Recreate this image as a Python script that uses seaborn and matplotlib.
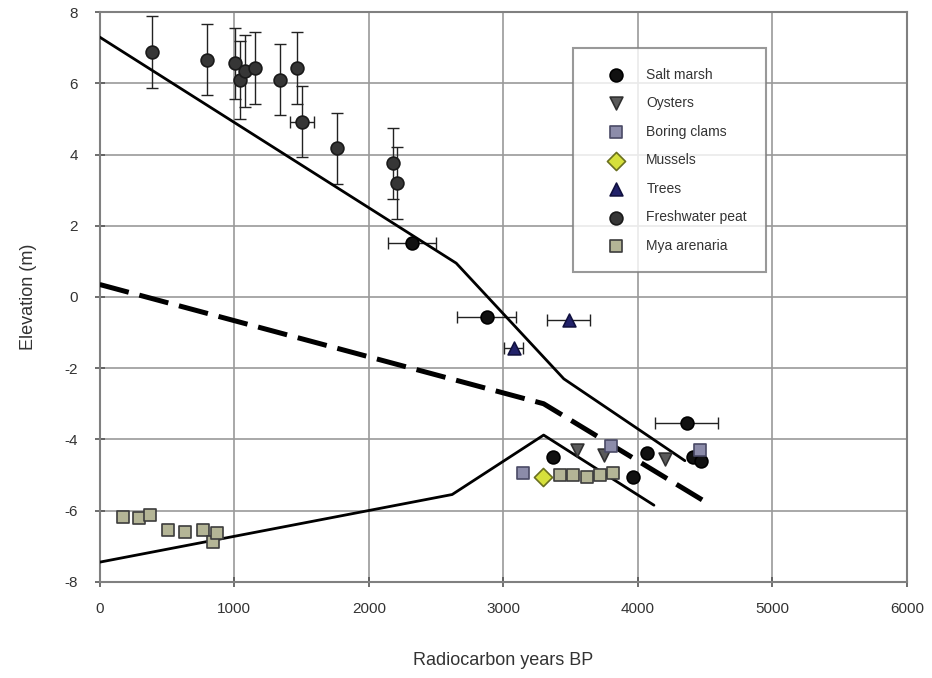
import matplotlib
matplotlib.use("Agg")
import matplotlib.pyplot as plt
import seaborn as sns
import pandas as pd


# upper dated points (large vertical uncertainty)
peat_x = [387, 796, 1004, 1041, 1078, 1152, 1338, 1465, 1502, 1762, 2178, 2208]
peat_y = [6.88, 6.66, 6.57, 6.10, 6.35, 6.43, 6.10, 6.43, 4.92, 4.18, 3.76, 3.20]
peat_xerr = [0, 0, 0, 0, 0, 0, 0, 0, 90, 0, 0, 0]
peat_yerr = [1.0, 1.0, 1.0, 1.1, 1.0, 1.0, 1.0, 1.0, 1.0, 1.0, 1.0, 1.0]

salt_x = [2320, 2877, 3368, 3963, 4067, 4364, 4409, 4470]
salt_y = [1.52, -0.56, -4.49, -5.06, -4.38, -3.54, -4.49, -4.60]
salt_xerr = [180, 220, 0, 0, 0, 234, 0, 0]

oyster_x = [3546, 3750, 4200]
oyster_y = [-4.30, -4.45, -4.55]

clam_x = [3145, 3800, 4460]
clam_y = [-4.95, -4.20, -4.30]

mussel_x = [3294]
mussel_y = [-5.06]

tree_x = [3078, 3487]
tree_y = [-1.43, -0.65]
tree_xerr = [70, 160]

mya_x = [171, 290, 372, 506, 632, 766, 840, 870, 3420, 3517, 3621, 3717, 3814]
mya_y = [-6.18, -6.20, -6.12, -6.55, -6.60, -6.55, -6.88, -6.63,
         -5.00, -5.00, -5.05, -5.00, -4.95]

# sea level curves
upper_x = [0, 2650, 3450, 4350]
upper_y = [7.3, 0.95, -2.3, -4.6]
dash_x = [0, 3300, 4500]
dash_y = [0.35, -3.0, -5.75]
lower_x = [0, 2620, 3300, 4120]
lower_y = [-7.45, -5.55, -3.88, -5.85]

x_ticks = [0, 1000, 2000, 3000, 4000, 5000, 6000]
y_ticks = [-8, -6, -4, -2, 0, 2, 4, 6, 8]


sns.set_theme(style="whitegrid")
plt.rcParams["font.family"] = ["Liberation Sans", "DejaVu Sans"]
plt.rcParams["axes.unicode_minus"] = False

fig, ax = plt.subplots(figsize=(9.32, 6.78), dpi=100)
fig.subplots_adjust(left=0.107, right=0.973, bottom=0.142, top=0.982)

# curves
for xs, ys, lw in [(upper_x, upper_y, 2.0), (lower_x, lower_y, 2.0), (dash_x, dash_y, 3.6)]:
    sns.lineplot(x=xs, y=ys, color="black", linewidth=lw, ax=ax,
                 estimator=None, sort=False, zorder=3)
ax.lines[-1].set_dashes((6, 2.2))

# error bars
ax.errorbar(peat_x, peat_y, xerr=peat_xerr, yerr=peat_yerr, fmt="none",
            ecolor="#222222", elinewidth=1.0, capsize=4, zorder=2)
ax.errorbar(salt_x, salt_y, xerr=salt_xerr, fmt="none",
            ecolor="#222222", elinewidth=1.0, capsize=4, zorder=2)
ax.errorbar(tree_x, tree_y, xerr=tree_xerr, fmt="none",
            ecolor="#222222", elinewidth=1.0, capsize=4, zorder=2)

series = [
    ("Salt marsh", salt_x, salt_y, "o", "#111111", "#000000"),
    ("Oysters", oyster_x, oyster_y, "v", "#5a5a5a", "#303030"),
    ("Boring clams", clam_x, clam_y, "s", "#8c8caa", "#4a4a66"),
    ("Mussels", mussel_x, mussel_y, "D", "#d6e03c", "#6a7020"),
    ("Trees", tree_x, tree_y, "^", "#22226a", "#111140"),
    ("Freshwater peat", peat_x, peat_y, "o", "#363636", "#1a1a1a"),
    ("Mya arenaria", mya_x, mya_y, "s", "#b4b596", "#3c3c3c"),
]

for label, xs, ys, mk, fc, ec in series:
    df = pd.DataFrame({"x": xs, "y": ys})
    sns.scatterplot(data=df, x="x", y="y", marker=mk, color=fc, edgecolor=ec,
                    linewidth=1.2, s=85, label=label, ax=ax, zorder=4)

ax.set_xlim(0, 6000)
ax.set_ylim(-8, 8)
ax.set_xticks(x_ticks)
ax.set_yticks(y_ticks)
ax.grid(True, color="#9a9a9a", linewidth=1.2)
for sp in ax.spines.values():
    sp.set_color("#808080")
    sp.set_linewidth(1.5)
ax.tick_params(axis="both", direction="inout", length=7, width=1.2,
               color="#555555", labelsize=11, labelcolor="#333333",
               left=True, bottom=True)
ax.tick_params(axis="x", pad=11)
ax.tick_params(axis="y", pad=12)

ax.set_xlabel("Radiocarbon years BP", fontsize=13, color="#333333", labelpad=26)
ax.set_ylabel("Elevation (m)", fontsize=13, color="#333333", labelpad=20)

leg = ax.legend(loc="upper left", bbox_to_anchor=(0.586, 0.937), fontsize=10,
                frameon=True, fancybox=False, borderpad=1.4, labelspacing=1.05,
                handlelength=3.4, handletextpad=0.5, borderaxespad=0)
leg.get_frame().set_edgecolor("#808080")
leg.get_frame().set_linewidth(1.5)
for t in leg.get_texts():
    t.set_color("#333333")

plt.savefig("out.png", dpi=100)
